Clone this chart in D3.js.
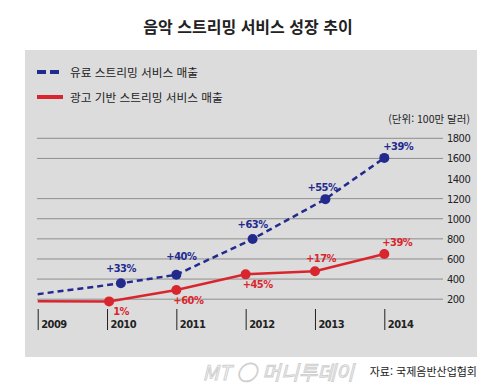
<!DOCTYPE html>
<html lang="ko">
<head>
<meta charset="UTF-8">
<title>음악 스트리밍 서비스 성장 추이</title>
<script src="https://d3js.org/d3.v7.min.js"></script>
<style>
    body { margin: 0; background: #fff; }
    svg text { font-family: "Noto Sans CJK KR", sans-serif; }
    svg text.num { font-family: "DejaVu Sans Condensed", "Liberation Sans Narrow", sans-serif; font-stretch: condensed; letter-spacing: -0.5px; }
</style>
</head>
<body>
<script>
    // data
    const years = [2009, 2010, 2011, 2012, 2013, 2014]
    const yTicks = [200, 400, 600, 800, 1000, 1200, 1400, 1600, 1800]
    const gridTicks = [200, 400, 600, 800, 1000, 1200, 1600, 1800]

    const paidX = [2009, 2010.2, 2011, 2012.1, 2013.15, 2014]
    const paidValues = [250, 358, 443, 798, 1195, 1605]
    const paidLabels = [null, "+33%", "+40%", "+63%", "+55%", "+39%"]

    const adX = [2009, 2010.03, 2011, 2012, 2013, 2014]
    const adValues = [180, 178, 291, 447, 478, 650]
    const adLabels = [null, "1%", "+60%", "+45%", "+17%", "+39%"]

    // label placement (dx, dy from the point)
    const paidLabelOff = [null, [0, -11], [5, -15], [0, -11], [-3, -8], [14, -8]]
    const adLabelOff = [null, [12, 14], [12, 14], [12, 14], [6, -9], [13, -8]]

    const W = 500, H = 388
    const blue = "#232a8e", red = "#d9262e"

    const svg = d3.select("body").append("svg")
        .attr("width", W)
        .attr("height", H)

    svg.append("text")
        .attr("x", 248).attr("y", 33)
        .attr("text-anchor", "middle")
        .style("font-size", "16px").style("font-weight", "bold")
        .attr("fill", "#222")
        .text("음악 스트리밍 서비스 성장 추이")

    // grey panel
    svg.append("rect")
        .attr("x", 25).attr("y", 50)
        .attr("width", 452).attr("height", 307)
        .attr("fill", "#dcdcdd")

    // legend
    const legend = svg.append("g")
    legend.append("line")
        .attr("x1", 37).attr("x2", 63).attr("y1", 72).attr("y2", 72)
        .attr("stroke", blue).attr("stroke-width", 4).attr("stroke-dasharray", "9,4")
    legend.append("text").attr("x", 70).attr("y", 76.5)
        .style("font-size", "11.7px").attr("fill", "#222")
        .text("유료 스트리밍 서비스 매출")
    legend.append("line")
        .attr("x1", 37).attr("x2", 63).attr("y1", 97).attr("y2", 97)
        .attr("stroke", red).attr("stroke-width", 4)
    legend.append("text").attr("x", 70).attr("y", 101.5)
        .style("font-size", "11.7px").attr("fill", "#222")
        .text("광고 기반 스트리밍 서비스 매출")

    svg.append("text")
        .attr("x", 470).attr("y", 123)
        .attr("text-anchor", "end")
        .style("font-size", "10.5px").attr("fill", "#222")
        .text("(단위: 100만 달러)")

    const x = d3.scaleLinear().domain([2009, 2014]).range([37.7, 384.3])
    const y = d3.scaleLinear().domain([0, 1800]).range([319.3, 138.3])

    // gridlines
    svg.append("g").selectAll("line")
        .data(gridTicks)
        .join("line")
        .attr("x1", 37).attr("x2", 443)
        .attr("y1", d => y(d)).attr("y2", d => y(d))
        .attr("stroke", "#8e8e8e").attr("stroke-width", 1)

    // right axis labels
    const yAxis = d3.axisRight(y).tickValues(yTicks).tickFormat(d3.format("d"))
        .tickSize(0).tickPadding(0)
    const yg = svg.append("g")
        .attr("transform", "translate(447,0)")
        .call(yAxis)
    yg.select(".domain").remove()
    yg.selectAll("text")
        .attr("class", "num")
        .style("font-size", "11px").attr("fill", "#222")

    // x axis: vertical ticks with labels to the right
    const xAxis = d3.axisBottom(x).tickValues(years).tickFormat(d3.format("d"))
        .tickSize(21).tickPadding(0)
    const xg = svg.append("g")
        .attr("transform", "translate(0,309)")
        .call(xAxis)
    xg.select(".domain").remove()
    xg.selectAll(".tick line").attr("stroke", "#222").attr("stroke-width", 1)
    xg.selectAll(".tick text")
        .attr("class", "num")
        .attr("text-anchor", "start")
        .attr("x", 3).attr("y", 19)
        .attr("dy", null)
        .style("font-size", "11px").style("font-weight", "bold").attr("fill", "#222")

    const line = d3.line().x(d => x(d[0])).y(d => y(d[1]))

    const paid = paidX.map((v, i) => [v, paidValues[i], paidLabels[i], paidLabelOff[i]])
    const ad = adX.map((v, i) => [v, adValues[i], adLabels[i], adLabelOff[i]])

    svg.append("path")
        .attr("d", line(ad))
        .attr("fill", "none").attr("stroke", red).attr("stroke-width", 2.5)
    svg.append("path")
        .attr("d", line(paid))
        .attr("fill", "none").attr("stroke", blue).attr("stroke-width", 2.5)
        .attr("stroke-dasharray", "6,4")

    function drawPoints(data, color) {
        const g = svg.append("g")
        const pts = data.filter(d => d[2] !== null)
        g.selectAll("circle").data(pts).join("circle")
            .attr("cx", d => x(d[0])).attr("cy", d => y(d[1]))
            .attr("r", 5).attr("fill", color)
        g.selectAll("text").data(pts).join("text")
            .attr("class", "num")
            .attr("x", d => x(d[0]) + d[3][0])
            .attr("y", d => y(d[1]) + d[3][1])
            .attr("text-anchor", "middle")
            .style("font-size", "11px").style("font-weight", "bold")
            .attr("fill", color)
            .text(d => d[2])
    }
    drawPoints(ad, red)
    drawPoints(paid, blue)

    // watermark (kept left of the source note)
    svg.append("text")
        .attr("x", 354).attr("y", 380)
        .attr("text-anchor", "end")
        .style("font-size", "20px").style("font-style", "italic")
        .attr("fill", "none").attr("stroke", "#cfcfcf").attr("stroke-width", 1)
        .text("MT ◯ 머니투데이")

    svg.append("text")
        .attr("x", 477).attr("y", 376)
        .attr("text-anchor", "end")
        .style("font-size", "11px").attr("fill", "#222")
        .text("자료: 국제음반산업협회")
</script>
</body>
</html>
